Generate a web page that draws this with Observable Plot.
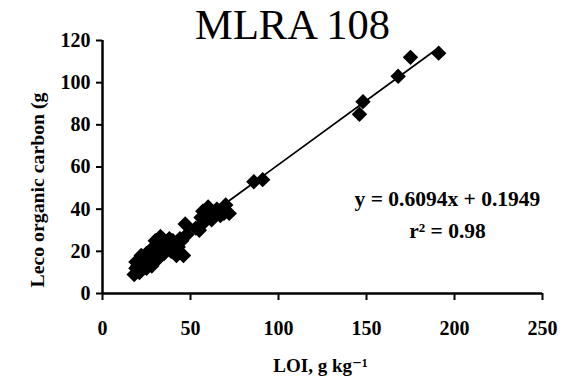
<!DOCTYPE html>
<html>
<head>
<meta charset="utf-8">
<script src="https://cdn.jsdelivr.net/npm/d3@7"></script>
<script src="https://cdn.jsdelivr.net/npm/@observablehq/plot@0.6"></script>
<style>
  html, body { margin: 0; padding: 0; background: #fff; }
  svg { display: block; }
</style>
</head>
<body>
<div id="chart"></div>
<script>
const loi = [18,19,19,20,21,22,22,23,24,25,25,26,27,28,28,29,30,30,31,32,33,34,35,35,
             37,38,39,40,41,42,43,44,45,46,47,48,
             53,55,56,57,58,60,61,62,64,65,67,69,70,72,
             86,91,146,148,168,175,191];
const leco = [9,12,15,13,10,16,18,14,17,12,19,15,20,17,13,22,18,25,16,20,27,21,19,24,
              22,26,20,25,23,18,22,26,25,18,33,28,
              31,30,36,39,34,41,37,35,39,40,37,38,42,38,
              53,54,85,91,103,112,114];
const slope = 0.6094, intercept = 0.1949;
const xTicks = [0,50,100,150,200,250];
const yTicks = [0,20,40,60,80,100,120];
const title = "MLRA 108";
const eqText = "y = 0.6094x + 0.1949";
const r2Text = "r² = 0.98";
const xLabel = "LOI, g kg⁻¹";
const yLabel = "Leco organic carbon (g";

const pts = loi.map((x,i) => ({x, y: leco[i]}));
const xMin = d3.min(loi), xMax = d3.max(loi);
const fit = [xMin, xMax].map(x => ({x, y: slope*x + intercept}));

const serif = "'Liberation Serif', 'DejaVu Serif', serif";
const plot = Plot.plot({
  width: 567,
  height: 380,
  marginLeft: 102,
  marginRight: 25,
  marginTop: 40,
  marginBottom: 87,
  style: {fontFamily: serif, background: "#fff", color: "#000", overflow: "visible"},
  x: {domain: [0,250], ticks: xTicks, label: null},
  y: {domain: [0,120], ticks: yTicks, label: null},
  marks: [
    Plot.axisX({ticks: xTicks, tickSize: 7, tickPadding: 20, fontSize: 20, fontWeight: "bold", label: null, stroke: "#000", strokeWidth: 2}),
    Plot.axisY({ticks: yTicks, tickSize: 6, tickPadding: 6, fontSize: 20, fontWeight: "bold", label: null, stroke: "#000", strokeWidth: 2}),
    Plot.ruleX([0], {stroke: "#000", strokeWidth: 2.5}),
    Plot.ruleY([0], {stroke: "#000", strokeWidth: 2.5}),
    Plot.line(fit, {x: "x", y: "y", stroke: "#000", strokeWidth: 1.8}),
    Plot.dot(pts, {x: "x", y: "y", symbol: "diamond2", r: 6, fill: "#000", stroke: "#000"}),
    Plot.text([title], {frameAnchor: "top", dx: -30, dy: -2, lineAnchor: "bottom", fontSize: 42.5, fontFamily: serif, fill: "#000"}),
    Plot.text([eqText], {x: 196, y: 44.6, textAnchor: "middle", lineAnchor: "middle", fontSize: 21.5, fontWeight: "bold", fontFamily: serif, fill: "#000"}),
    Plot.text([r2Text], {x: 196, y: 29.4, textAnchor: "middle", lineAnchor: "middle", fontSize: 21.5, fontWeight: "bold", fontFamily: serif, fill: "#000"}),
    Plot.text([xLabel], {frameAnchor: "bottom", dx: -2, dy: 78, lineAnchor: "bottom", fontSize: 19, fontWeight: "bold", fontFamily: serif, fill: "#000"}),
    Plot.text([yLabel], {frameAnchor: "left", rotate: -90, textAnchor: "middle", dx: -65, dy: 23, fontSize: 19.8, fontWeight: "bold", fontFamily: serif, fill: "#000"})
  ]
});
document.getElementById("chart").appendChild(plot);
</script>
</body>
</html>
